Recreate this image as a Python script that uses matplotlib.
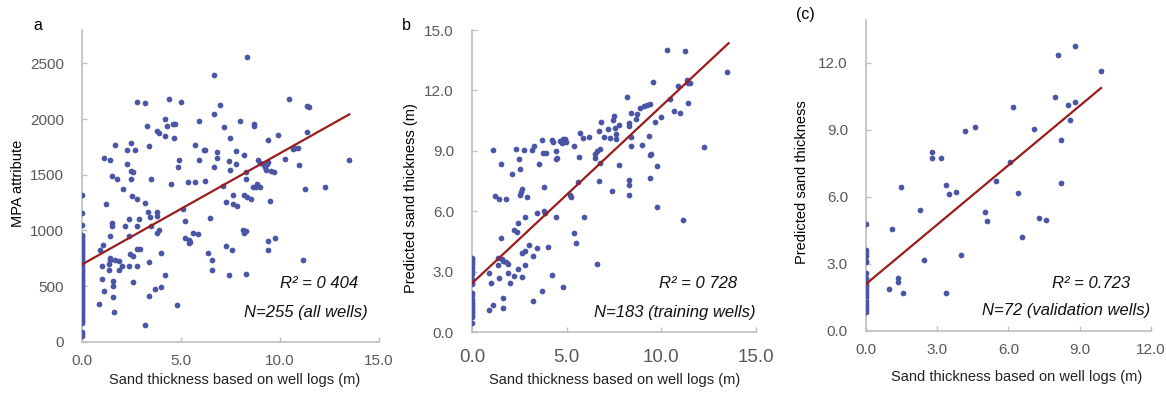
import matplotlib
matplotlib.use("Agg")
import matplotlib.pyplot as plt

plt.rcParams["font.family"] = ["Liberation Sans", "DejaVu Sans"]

# ---- panel a: MPA attribute vs sand thickness (all wells) ----
a_x = [8.32, 6.67, 2.76, 3.18, 4.39, 5.0, 6.97, 10.47, 11.39, 11.47, 6.67, 5.89, 7.98, 8.69, 8.69,
       4.17, 3.26, 4.27, 4.58, 4.68, 3.79, 3.89, 4.17, 4.66, 7.17, 7.46, 9.88, 11.38, 9.38, 1.68,
       2.47, 2.27, 2.66, 3.38, 5.69, 6.14, 6.21, 6.8, 7.76, 8.18, 1.09, 1.40, 4.88, 5.89, 6.80,
       7.41, 2.27, 4.86, 6.67, 7.78, 8.87, 8.99, 9.16, 9.33, 9.38, 9.26, 9.29, 9.53, 9.70, 10.27,
       10.64, 10.77, 10.89, 10.98, 13.47, 2.47, 2.59, 7.49, 8.28, 1.52, 1.78, 2.49, 3.47, 4.49,
       5.37, 5.69, 6.19, 8.30, 8.62, 8.79, 8.82, 9.01, 2.09, 7.10, 7.61, 8.20, 8.32, 8.52, 11.28,
       12.27, 2.54, 2.78, 3.20, 1.20, 7.29, 7.61, 7.81, 9.48, 5.08, 3.32, 3.77, 3.77, 3.43, 2.90,
       2.39, 6.48, 1.50, 1.50, 5.19, 2.19, 2.78, 3.49, 3.89, 3.79, 8.15, 8.28, 8.20, 5.59, 5.87,
       5.20, 5.42, 5.45, 5.40, 1.41, 2.37, 1.08, 0.89, 2.76, 2.93, 9.38, 9.77, 9.38, 7.26, 7.59,
       3.99, 6.38, 2.44, 2.58, 1.40, 1.40, 1.38, 1.67, 1.89, 3.40, 0.99, 2.00, 1.87, 2.39, 2.76,
       1.38, 6.58, 6.58, 11.18, 7.41, 8.30, 4.17, 1.01, 1.58, 2.58, 1.58, 1.09, 1.58, 3.67, 3.99,
       3.38, 0.88, 4.78, 1.60, 3.18]
a_y = [2556, 2398, 2153, 2144, 2180, 2153, 2129, 2183, 2114, 2108, 2045, 1985, 1979, 1955, 1940,
       1997, 1940, 1934, 1958, 1958, 1892, 1877, 1848, 1830, 1925, 1832, 1860, 1884, 1812, 1770,
       1788, 1725, 1725, 1758, 1770, 1720, 1725, 1704, 1713, 1674, 1650, 1635, 1629, 1629, 1647,
       1623, 1599, 1569, 1569, 1596, 1629, 1608, 1599, 1596, 1614, 1569, 1539, 1530, 1527, 1644,
       1734, 1743, 1740, 1584, 1629, 1533, 1521, 1542, 1521, 1489, 1459, 1459, 1459, 1420,
       1432, 1432, 1441, 1462, 1390, 1390, 1414, 1387, 1372, 1399, 1316, 1319, 1301, 1286, 1375,
       1393, 1310, 1280, 1250, 1241, 1259, 1235, 1217, 1265, 1190, 1163, 1163, 1127, 1121, 1106,
       1100, 1112, 1065, 1041, 1082, 1041, 1038, 1044, 1002, 981, 1002, 996, 981, 981, 966,
       936, 918, 897, 888, 948, 954, 873, 822, 837, 831, 906, 933, 825, 858, 825,
       801, 798, 792, 774, 753, 732, 702, 735, 726, 717, 681, 684, 642, 681, 681,
       648, 738, 648, 732, 595, 609, 601, 559, 547, 538, 499, 454, 400, 472, 490,
       412, 338, 332, 269, 152]
# wells with zero sand thickness
a_zero = [1320, 1160, 1045, 962, 948, 931, 917, 902, 884, 871, 858, 840, 826, 812, 797, 781,
          768, 753, 739, 722, 708, 694, 677, 661, 648, 633, 617, 602, 588, 571, 556, 542,
          527, 512, 498, 481, 466, 452, 437, 423, 406, 392, 377, 361, 347, 331, 318, 302,
          289, 273, 259, 244, 228, 214, 199, 186, 172, 88, 72, 55]
a_fit = (694.0, 99.9)  # intercept, slope read from trendline

# ---- panel b: predicted vs log sand thickness (training wells) ----
b_x = [10.28, 11.27, 13.49, 9.58, 10.86, 11.34, 11.39, 11.50, 8.20, 10.48, 11.39, 10.67, 11.00,
       8.87, 9.08, 9.24, 9.38, 9.96, 9.68, 8.42, 8.70, 8.68, 8.29, 8.29, 7.50, 7.45, 6.80, 7.78,
       7.20, 7.54, 5.70, 6.69, 5.86, 6.20, 6.99, 7.29, 7.61, 7.61, 8.42, 8.38, 9.37, 8.98, 9.40,
       9.47, 9.77, 7.78, 9.38, 7.41, 6.69, 8.27, 8.29, 8.29, 9.75, 11.16, 12.27, 3.71, 4.24, 4.28,
       4.65, 4.75, 4.82, 4.91, 4.96, 4.89, 5.39, 5.65, 6.60, 6.51, 6.78, 6.48, 6.76, 4.44, 4.42,
       4.51, 3.29, 3.17, 3.75, 3.91, 1.13, 2.32, 2.73, 2.50, 1.51, 3.54, 2.11, 2.52, 3.80, 5.60,
       5.19, 5.23, 2.57, 2.66, 2.54, 2.89, 1.23, 1.43, 1.81, 3.82, 3.86, 3.42, 4.42, 5.90, 2.82,
       2.41, 2.20, 2.39, 5.37, 5.49, 1.51, 3.01, 3.42, 4.01, 2.62, 2.80, 3.20, 1.39, 1.57, 1.65,
       1.77, 1.88, 1.39, 2.80, 2.41, 6.58, 0.92, 1.43, 1.88, 2.20, 2.62, 1.00, 2.01, 4.21, 4.79,
       3.71, 1.64, 1.11, 0.92, 1.62, 3.20]
b_y = [14.01, 13.97, 12.93, 12.40, 12.22, 12.52, 12.38, 12.37, 11.66, 11.56, 11.36, 10.99, 10.86,
       11.14, 11.23, 11.26, 11.34, 10.70, 10.45, 10.86, 10.81, 10.58, 10.36, 10.23, 10.73, 10.53,
       10.45, 10.26, 10.07, 10.13, 9.90, 9.97, 9.65, 9.67, 9.70, 9.65, 9.82, 9.57, 9.70, 9.25,
       9.74, 9.29, 8.77, 8.84, 8.25, 8.28, 7.65, 7.00, 7.52, 7.28, 7.53, 6.80, 6.19, 5.56, 9.21,
       9.55, 9.54, 9.42, 9.47, 9.37, 9.57, 9.54, 9.42, 9.60, 9.24, 8.71, 8.99, 8.86, 9.09, 8.66,
       8.41, 9.01, 8.61, 8.66, 9.25, 9.06, 8.89, 8.91, 9.04, 9.07, 9.04, 8.61, 8.33, 8.36, 7.86,
       8.10, 7.22, 7.43, 6.80, 6.72, 6.94, 7.09, 6.80, 6.72, 6.77, 6.59, 6.61, 6.03, 5.89, 5.93,
       5.73, 5.73, 5.70, 5.40, 5.07, 4.95, 4.90, 4.44, 4.69, 4.34, 4.16, 4.24, 3.91, 4.04, 3.77,
       3.66, 3.63, 3.53, 3.49, 3.38, 3.33, 3.33, 3.11, 3.39, 2.95, 2.70, 2.95, 2.78, 2.72, 2.43,
       2.43, 2.85, 2.22, 2.04, 1.71, 1.34, 1.11, 1.18, 1.56]
b_zero = [3.70, 3.62, 3.52, 3.43, 3.31, 3.18, 3.03, 2.90, 2.62, 2.51, 2.44, 2.36, 1.96, 1.83,
          1.62, 1.54, 1.45, 1.36, 1.27, 1.19, 1.10, 1.01, 0.93, 0.85, 0.77, 0.45]
b_fit = (2.42, 0.880)

# ---- panel c: predicted vs log sand thickness (validation wells) ----
c_x = [8.79, 8.10, 9.89, 7.97, 8.80, 8.49, 8.59, 6.19, 7.09, 8.20, 8.20, 4.18, 4.59, 2.78, 2.78,
       3.17, 6.06, 5.49, 3.37, 3.48, 3.79, 6.39, 1.47, 2.27, 5.00, 5.08, 7.28, 7.58, 6.58, 1.08,
       2.46, 3.99, 1.36, 1.36, 0.95, 1.56, 3.37]
c_y = [12.72, 12.33, 11.60, 10.44, 10.24, 10.11, 9.42, 9.99, 9.03, 8.54, 6.62, 8.93, 9.11, 7.99,
       7.75, 7.71, 7.57, 6.69, 6.54, 6.11, 6.20, 6.16, 6.43, 5.41, 5.31, 4.90, 5.05, 4.98, 4.19,
       4.56, 3.16, 3.38, 2.36, 2.21, 1.86, 1.68, 1.68]
c_zero = [4.80, 3.62, 3.50, 3.35, 3.15, 3.10, 2.60, 2.35, 2.20, 2.10, 2.00, 1.90, 1.80, 1.65,
          1.50, 1.35, 1.20, 1.05, 0.95, 0.85]
c_fit = (2.10, 0.885)

DOT = "#4a55a4"
LINE = "#9b1c1c"
GREY = "#595959"
SPINE = "#bfbfbf"

panels = [
    dict(x=a_x, y=a_y, zero=a_zero, fit=a_fit, xend=13.5,
         rect=[0.0703, 0.1305, 0.2547, 0.793], xlim=15, xticks=[0, 5, 10, 15],
         ylim=2800, yticks=[0, 500, 1000, 1500, 2000, 2500], yfmt="{:.0f}",
         ylabel="MPA attribute", ylab_pos=(18, 183), xlab_pos=(235, 380),
         tag="a", tag_pos=(38, 25), r2="R² = 0 404", nlab="N=255 (all wells)",
         r2_pos=(358, 283), n_pos=(368, 313), xtick_fs=11, xpad=9),
    dict(x=b_x, y=b_y, zero=b_zero, fit=b_fit, xend=13.55,
         rect=[0.4048, 0.1552, 0.2436, 0.7684], xlim=15, xticks=[0, 5, 10, 15],
         ylim=15, yticks=[0, 3, 6, 9, 12, 15], yfmt="{:.1f}",
         ylabel="Predicted sand thickness (m)", ylab_pos=(411, 198), xlab_pos=(615, 380),
         tag="b", tag_pos=(406, 25), r2="R² = 0 728", nlab="N=183 (training wells)",
         r2_pos=(737, 283), n_pos=(756, 313), xtick_fs=13.5, xpad=12),
    dict(x=c_x, y=c_y, zero=c_zero, fit=c_fit, xend=9.9,
         rect=[0.7427, 0.1578, 0.2444, 0.7913], xlim=12, xticks=[0, 3, 6, 9, 12],
         ylim=13.9, yticks=[0, 3, 6, 9, 12], yfmt="{:.1f}",
         ylabel="Predicted sand thickness", ylab_pos=(802, 182), xlab_pos=(1017, 377),
         tag="(c)", tag_pos=(805, 15), r2="R² = 0.723", nlab="N=72 (validation wells)",
         r2_pos=(1130, 283), n_pos=(1150, 310), xtick_fs=11, xpad=9),
]

W, H = 1166, 393
fig = plt.figure(figsize=(W / 100, H / 100), dpi=100)

for p in panels:
    ax = fig.add_axes(p["rect"])
    ax.scatter([0.0] * len(p["zero"]), p["zero"], s=17, color=DOT, linewidths=0, zorder=3)
    ax.scatter(p["x"], p["y"], s=17, color=DOT, linewidths=0, zorder=3)
    b0, b1 = p["fit"]
    ax.plot([0, p["xend"]], [b0, b0 + b1 * p["xend"]], color=LINE, lw=1.6, zorder=4)

    ax.set_xlim(0, p["xlim"])
    ax.set_ylim(0, p["ylim"])
    ax.set_xticks(p["xticks"])
    ax.set_xticklabels([f"{v:.1f}" for v in p["xticks"]], fontsize=p["xtick_fs"], color=GREY)
    ax.set_yticks(p["yticks"])
    ax.set_yticklabels([p["yfmt"].format(v) for v in p["yticks"]], fontsize=11, color=GREY)
    ax.tick_params(direction="in", length=3.5, color=SPINE, width=1)
    ax.tick_params(axis="y", pad=13)
    ax.tick_params(axis="x", pad=p["xpad"])
    for s in ("top", "right"):
        ax.spines[s].set_visible(False)
    for s in ("left", "bottom"):
        ax.spines[s].set_color(SPINE)
        ax.spines[s].set_linewidth(1.2)
    for lab in ax.get_xticklabels() + ax.get_yticklabels():
        lab.set_clip_on(False)

    fig.text(p["ylab_pos"][0] / W, 1 - p["ylab_pos"][1] / H, p["ylabel"], rotation=90,
             ha="center", va="center", fontsize=10.5, color="black")
    fig.text(p["xlab_pos"][0] / W, 1 - p["xlab_pos"][1] / H,
             "Sand thickness based on well logs (m)", ha="center", va="center",
             fontsize=10.5, color="#222222")
    fig.text(p["tag_pos"][0] / W, 1 - p["tag_pos"][1] / H, p["tag"], ha="center",
             va="center", fontsize=11.5, color="black")
    fig.text(p["r2_pos"][0] / W, 1 - p["r2_pos"][1] / H, p["r2"], ha="right",
             va="center", fontsize=12, style="italic", color="#111111")
    fig.text(p["n_pos"][0] / W, 1 - p["n_pos"][1] / H, p["nlab"], ha="right",
             va="center", fontsize=12, style="italic", color="#111111")

fig.savefig("out.png", dpi=100)
